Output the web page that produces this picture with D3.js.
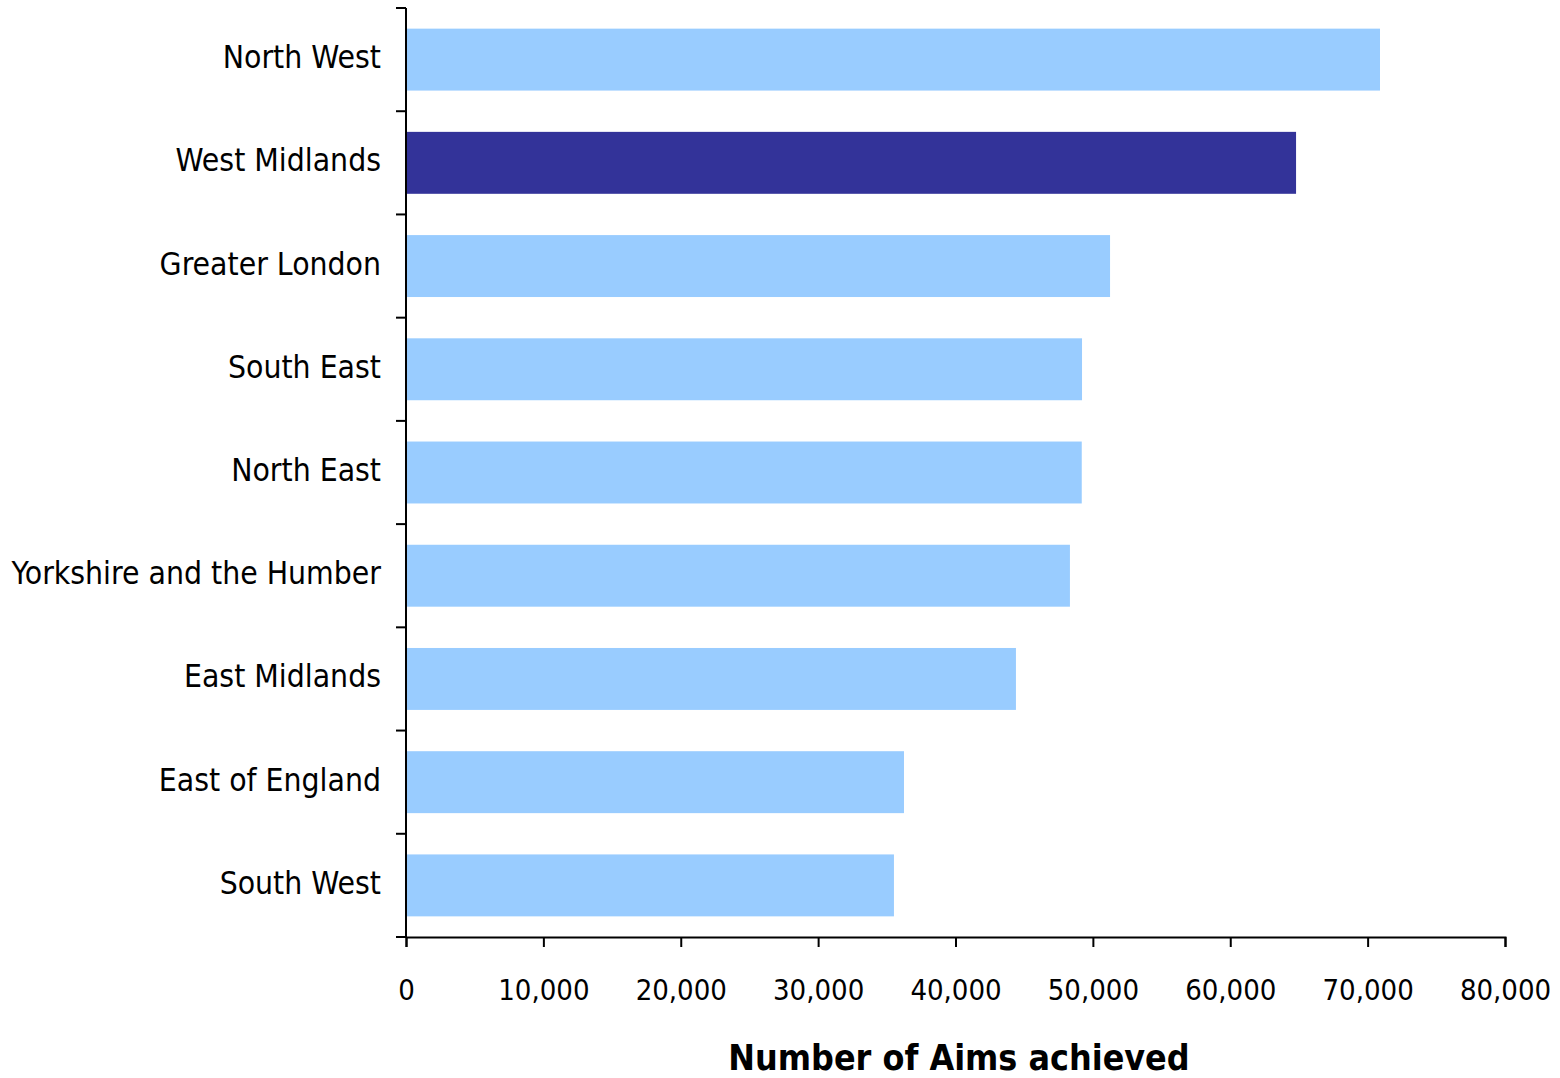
<!DOCTYPE html>
<html>
<head>
<meta charset="utf-8">
<script src="https://cdn.jsdelivr.net/npm/d3@7"></script>
<style>
  html, body { margin: 0; padding: 0; background: #fff; }
  svg { display: block; }
</style>
</head>
<body>
<svg id="chart" width="1560" height="1078"></svg>
<script>
const categories = ["North West", "West Midlands", "Greater London", "South East", "North East",
  "Yorkshire and the Humber", "East Midlands", "East of England", "South West"];
const values = [70900, 64790, 51250, 49210, 49190, 48330, 44400, 36250, 35520];
const highlighted = ["West Midlands"];
const xTicks = [0, 10000, 20000, 30000, 40000, 50000, 60000, 70000, 80000];
const xTitle = "Number of Aims achieved";

(function () {
const FONT = "'DejaVu Sans Condensed', 'DejaVu Sans', sans-serif";
const svg = d3.select("#chart");
const mLeft = 406, mRight = 1505, mTop = 8, mBottom = 937;

const x = d3.scaleLinear().domain([0, 80000]).range([mLeft, mRight]);
const y = d3.scaleBand().domain(categories).range([mTop, mBottom]).paddingInner(0.4).paddingOuter(0.2);

svg.append("g").selectAll("rect").data(categories).join("rect")
  .attr("x", x(0))
  .attr("y", d => y(d))
  .attr("width", (d, i) => x(values[i]) - x(0))
  .attr("height", y.bandwidth())
  .attr("fill", d => highlighted.includes(d) ? "#333399" : "#99CCFF");

const yAxisG = svg.append("g");
yAxisG.append("line").attr("x1", mLeft).attr("x2", mLeft).attr("y1", mTop).attr("y2", mBottom)
  .attr("stroke", "#000").attr("stroke-width", 2);
const boundaries = [mTop].concat(categories.slice(1).map((d, i) => (y(categories[i]) + y.bandwidth() + y(d)) / 2)).concat([mBottom]);
yAxisG.selectAll("line.tick").data(boundaries).join("line").attr("class", "tick")
  .attr("x1", mLeft - 10).attr("x2", mLeft).attr("y1", d => d).attr("y2", d => d)
  .attr("stroke", "#000").attr("stroke-width", 2);
yAxisG.selectAll("text").data(categories).join("text")
  .attr("x", mLeft - 25).attr("y", d => y(d) + y.bandwidth() / 2)
  .attr("dy", "0.27em").attr("text-anchor", "end")
  .attr("font-family", FONT).attr("font-size", 31.6).attr("fill", "#000")
  .text(d => d);

const xAxis = d3.axisBottom(x).tickValues(xTicks).tickSize(10).tickPadding(32)
  .tickFormat(d3.format(","));
const xg = svg.append("g").attr("transform", `translate(0,${mBottom})`).call(xAxis);
xg.select(".domain").attr("stroke", "#000").attr("stroke-width", 2);
xg.selectAll(".tick line").attr("stroke", "#000").attr("stroke-width", 2);
xg.selectAll(".tick text").attr("font-family", FONT).attr("font-size", 29).attr("fill", "#000");

svg.append("text").attr("x", 959).attr("y", 1070)
  .attr("text-anchor", "middle").attr("font-family", FONT).attr("font-weight", "bold")
  .attr("font-size", 35.5).attr("fill", "#000").text(xTitle);
})();
</script>
</body>
</html>
